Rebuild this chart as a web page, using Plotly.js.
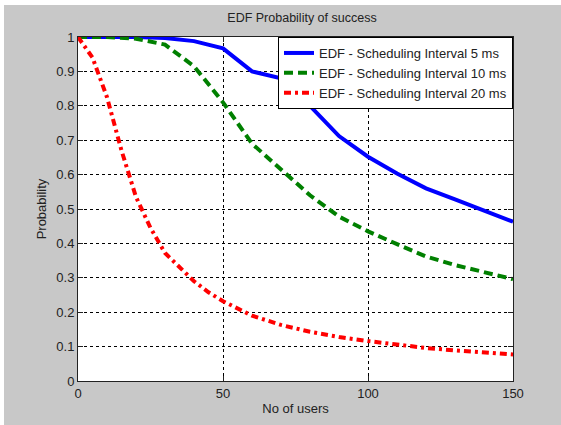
<!DOCTYPE html>
<html>
<head>
<meta charset="utf-8">
<script src="https://cdn.plot.ly/plotly-3.0.1.min.js"></script>
<style>
html,body{margin:0;padding:0;background:#ffffff;width:561px;height:425px;overflow:hidden;}
#chart{position:absolute;left:4px;top:5px;width:557px;height:420px;}
</style>
</head>
<body>
<div id="chart"></div>
<script>
var xBlue = [0,10,20,30,40,50,60,70,80,90,100,110,120,130,140,150];
var yBlue = [1,1,1,0.997,0.988,0.967,0.9,0.88,0.8,0.712,0.652,0.603,0.56,0.528,0.496,0.463];

var xGreen = [0,10,20,30,40,50,60,70,80,90,100,110,120,130,140,150];
var yGreen = [1,1,0.995,0.978,0.915,0.81,0.69,0.615,0.54,0.478,0.435,0.398,0.362,0.337,0.315,0.296];

var xRed = [0,5,10,15,20,25,30,35,40,45,50,60,70,80,90,100,110,120,130,140,150];
var yRed = [1,0.94,0.825,0.67,0.535,0.445,0.372,0.33,0.29,0.258,0.232,0.19,0.163,0.143,0.128,0.116,0.105,0.096,0.089,0.082,0.077];

var names = ['EDF - Scheduling Interval 5 ms','EDF - Scheduling Interval 10 ms','EDF - Scheduling Interval 20 ms'];

var traces = [
  {x:xBlue, y:yBlue, name:names[0], mode:'lines', line:{color:'#0000ff', width:4}},
  {x:xGreen, y:yGreen, name:names[1], mode:'lines', line:{color:'#008000', width:4, dash:'9px,5px'}},
  {x:xRed, y:yRed, name:names[2], mode:'lines', line:{color:'#ff0000', width:4, dash:'7px,4px,3px,4px'}}
];

var axisCommon = {
  showline:true, linecolor:'#222', linewidth:1, mirror:'ticks',
  ticks:'inside', ticklen:5, tickcolor:'#222',
  showgrid:true, gridcolor:'#000', gridwidth:1, griddash:'dot',
  zeroline:false, tickfont:{size:13, color:'#222'}
};

var layout = {
  width:557, height:420,
  paper_bgcolor:'#c8c8c8', plot_bgcolor:'#ffffff',
  font:{family:'Liberation Sans, Arial, sans-serif', size:13, color:'#222'},
  margin:{l:74, r:48, t:32, b:44},
  title:{text:'EDF Probability of success', font:{size:12.5, color:'#222'}, x:0.535, xanchor:'center', y:0.97, yanchor:'middle'},
  xaxis:Object.assign({}, axisCommon, {range:[0,150], tickvals:[0,50,100,150], title:{text:'No of users', font:{size:13}, standoff:4}}),
  yaxis:Object.assign({}, axisCommon, {range:[0,1], dtick:0.1, title:{text:'Probability', font:{size:13}, standoff:6}}),
  showlegend:true,
  legend:{x:1, xanchor:'right', y:1, yanchor:'top', bgcolor:'#ffffff', bordercolor:'#000', borderwidth:1, font:{size:13, color:'#222'}, tracegroupgap:0, itemwidth:30}
};

Plotly.newPlot('chart', traces, layout, {displayModeBar:false, staticPlot:true});
</script>
</body>
</html>
